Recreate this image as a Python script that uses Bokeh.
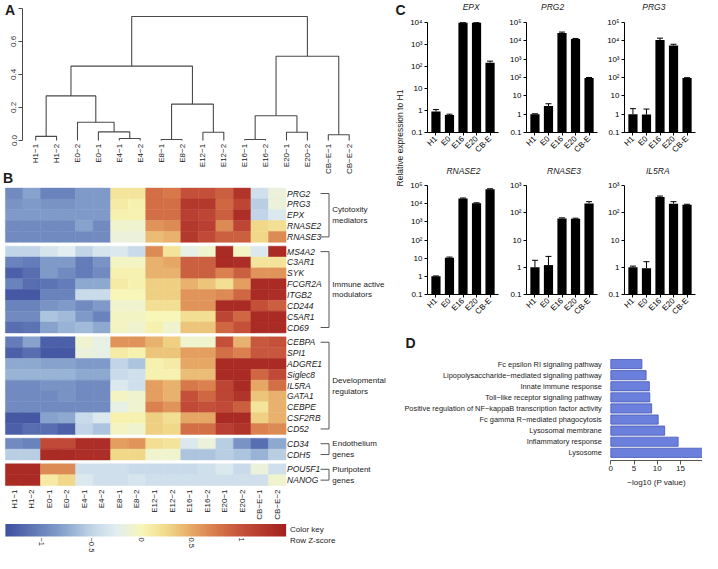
import math
import numpy as np
from bokeh.plotting import figure
from bokeh.models import (Range1d, FixedTicker, ColumnDataSource, LinearColorMapper, TeeHead, Whisker)
from bokeh.layouts import row, column
from bokeh.transform import transform
from bokeh.embed import file_html
from bokeh.resources import INLINE
from bokeh.core.properties import value

FONT = "Liberation Sans"
INK = "#1a1a1a"

# ---------------- Panel A: dendrogram data ----------------
leaf_order = ["H1−1", "H1−2", "E0−2", "E0−1", "E4−1", "E4−2", "E8−1", "E8−2",
              "E12−1", "E12−2", "E16−1", "E16−2", "E20−1", "E20−2", "CB−E−1", "CB−E−2"]
merge_left = ["H1−1", "E4−1", "E0−1", "E0−2", "#0", "E8−1", "E12−1", "#5", "#4",
              "E16−1", "E20−1", "#9", "CB−E−1", "#11", "#8"]
merge_right = ["H1−2", "E4−2", "#1", "#2", "#3", "E8−2", "E12−2", "#6", "#7",
               "E16−2", "E20−2", "#10", "CB−E−2", "#12", "#13"]
merge_height = [0.025, 0.012, 0.052, 0.11, 0.27, 0.006, 0.05, 0.22, 0.45,
                0.006, 0.05, 0.15, 0.035, 0.51, 0.75]
dend_ticks = [0.0, 0.2, 0.4, 0.6, 0.8]
dend_tick_labels = ["0.0", "0.2", "0.4", "0.6", ""]

# ---------------- Panel B: heatmap data (row z-scores) ----------------
hm_columns = ["H1−1", "H1−2", "E0−1", "E0−2", "E4−1", "E4−2", "E8−1", "E8−2",
              "E12−1", "E12−2", "E16−1", "E16−2", "E20−1", "E20−2", "CB−E−1", "CB−E−2"]

genes_cytotoxity = ["PRG2", "PRG3", "EPX", "RNASE2", "RNASE3"]
z_cytotoxity = [
    [-0.95, -0.8, -1.0, -1.0, -0.85, -0.85, 0.15, 0.15, 0.8, 0.75, 1.0, 1.0, 0.9, 1.25, -0.4, -0.15],
    [-0.9, -0.85, -0.9, -0.9, -0.85, -0.85, 0.1, 0.05, 0.8, 0.8, 1.2, 1.2, 0.85, 1.1, -0.55, -0.15],
    [-0.85, -0.85, -0.85, -0.85, -0.85, -0.85, 0.05, 0.05, 0.8, 0.8, 1.15, 1.1, 0.9, 1.3, -0.5, -0.3],
    [-0.95, -0.95, -0.95, -0.95, -0.8, -0.95, -0.1, -0.1, 0.6, 0.65, 1.2, 1.15, 0.65, 1.1, 0.25, 0.2],
    [-0.95, -0.95, -0.95, -0.95, -0.95, -0.95, -0.15, -0.15, 0.4, 0.45, 1.2, 1.05, 0.9, 0.9, 0.25, 0.65],
]
genes_immune = ["MS4A2", "C3AR1", "SYK", "FCGR2A", "ITGB2", "CD244", "C5AR1", "CD69"]
z_immune = [
    [-0.5, -0.5, -0.35, -0.25, -0.5, -0.35, -0.3, -0.45, 0.65, 0.15, -0.2, -0.1, 1.35, -0.05, -0.3, 1.35],
    [-1.0, -1.05, -0.85, -0.85, -1.05, -0.9, -0.05, -0.05, 0.45, 0.5, 0.9, 0.9, 1.35, 1.3, 0.15, 0.15],
    [-1.25, -1.15, -0.85, -0.95, -1.05, -0.95, 0.05, 0.05, 0.45, 0.45, 0.9, 0.9, 0.7, 0.9, 0.6, 0.6],
    [-1.0, -1.15, -1.1, -1.05, -0.75, -0.75, 0.1, 0.05, 0.3, 0.3, 0.45, 0.35, 0.2, 0.55, 1.35, 1.35],
    [-1.3, -1.3, -1.0, -1.0, -0.45, -0.45, 0.0, 0.0, 0.3, 0.3, 0.6, 0.6, 0.65, 0.85, 1.35, 1.3],
    [-1.0, -1.0, -0.9, -0.85, -0.95, -0.85, -0.1, -0.1, 0.2, 0.2, 0.6, 0.6, 1.35, 1.35, 1.0, 0.9],
    [-0.95, -0.95, -0.6, -0.65, -0.85, -1.0, -0.05, -0.05, 0.0, 0.0, 0.2, 0.2, 1.1, 0.85, 1.35, 1.35],
    [-1.15, -1.1, -0.8, -0.7, -0.65, -0.75, -0.05, -0.1, 0.05, -0.1, 0.35, 0.35, 0.85, 1.0, 1.35, 1.35],
]
genes_developmental = ["CEBPA", "SPI1", "ADGRE1", "Siglec8", "IL5RA", "GATA1", "CEBPE", "CSF2RB", "CD52"]
z_developmental = [
    [-1.05, -0.8, -1.25, -1.25, -0.1, -0.2, 0.6, 0.6, 0.45, 0.3, -0.1, -0.1, 1.0, 0.45, 0.95, 1.0],
    [-1.25, -1.15, -1.3, -1.3, -0.15, -0.2, 0.1, 0.05, 0.35, 0.35, 0.55, 0.55, 0.8, 0.7, 0.95, 0.95],
    [-0.75, -0.75, -0.8, -0.8, -0.85, -0.85, -0.5, -0.6, 0.05, 0.1, 0.5, 0.5, 1.35, 1.35, 1.35, 1.35],
    [-0.7, -0.7, -0.7, -0.7, -0.75, -0.75, -0.45, -0.4, 0.05, 0.05, 0.4, 0.4, 1.35, 1.35, 0.85, 1.05],
    [-0.95, -0.95, -0.9, -0.9, -0.95, -0.95, -0.3, -0.4, 0.55, 0.45, 0.75, 0.7, 1.1, 1.35, 0.5, 0.8],
    [-0.95, -0.95, -0.95, -0.9, -0.95, -0.95, -0.05, -0.1, 0.55, 0.45, 1.0, 0.85, 1.1, 1.25, 0.35, 0.45],
    [-0.95, -0.95, -0.95, -0.95, -0.95, -0.95, -0.2, -0.1, 0.7, 0.6, 1.05, 1.0, 1.05, 0.9, 0.15, 0.45],
    [-1.3, -1.3, -0.8, -0.75, -0.45, -0.3, 0.05, 0.05, 0.3, 0.2, 0.5, 0.5, 1.35, 1.35, 0.3, 0.45],
    [-1.25, -1.15, -1.15, -1.25, -0.5, -0.6, -0.05, -0.1, 0.3, 0.25, 0.8, 0.8, 1.15, 1.25, 0.7, 0.65],
]
genes_endothelium = ["CD34", "CDH5"]
z_endothelium = [
    [-0.95, -1.0, 1.05, 1.05, 1.3, 1.3, 0.55, 0.6, 0.2, 0.15, -0.3, -0.15, -0.55, -0.9, -1.15, -0.75],
    [-0.55, -0.55, 1.35, 1.35, 1.3, 1.3, 0.25, 0.25, -0.1, -0.1, -0.6, -0.6, -0.55, -0.6, -0.7, -0.55],
]
genes_pluripotent = ["POU5F1", "NANOG"]
z_pluripotent = [
    [1.35, 1.35, 0.65, 0.65, -0.4, -0.4, -0.4, -0.45, -0.45, -0.45, -0.45, -0.4, -0.3, -0.45, -0.15, -0.4],
    [1.35, 1.35, 0.1, 0.25, -0.3, -0.4, -0.4, -0.35, -0.4, -0.4, -0.4, -0.4, -0.4, -0.4, -0.4, -0.1],
]
group_titles = [["Cytotoxity", "mediators"], ["Immune active", "modulators"],
                ["Developmental", "regulators"], ["Endothelium", "genes"], ["Pluripotent", "genes"]]
key_ticks = [-1, -0.5, 0, 0.5, 1]
key_low, key_high = -1.36, 1.44

# ---------------- Panel C: qPCR data ----------------
qpcr_groups = ["H1", "E0", "E16", "E20", "CB-E"]
epx_mean = [0.9, 0.62, 9800, 9800, 150]
epx_upper = [1.1, 0.68, 9800, 9800, 175]
prg2_mean = [1.0, 2.8, 27000, 12500, 95]
prg2_upper = [1.05, 3.7, 30000, 13500, 100]
prg3_mean = [1.0, 0.95, 11000, 5600, 95]
prg3_upper = [2.0, 1.9, 14000, 6500, 98]
rnase2_mean = [1.0, 10.5, 19000, 10500, 62000]
rnase2_upper = [1.05, 11.5, 20500, 11200, 66000]
rnase3_mean = [1.0, 1.2, 62, 60, 220]
rnase3_upper = [1.8, 2.5, 65, 63, 255]
il5ra_mean = [1.0, 0.92, 380, 215, 195]
il5ra_upper = [1.1, 1.6, 410, 255, 205]
log_tick_labels = {0.1: "0.1", 1: "1", 10: "10", 100: "10²", 1000: "10³",
                   10000: "10⁴", 100000: "10⁵"}

# ---------------- Panel D: GO enrichment ----------------
go_terms = ["Fc epsilon RI signaling pathway",
            "Lipopolysaccharide−mediated signaling pathway",
            "Innate immune response",
            "Toll−like receptor signaling pathway",
            "Positive regulation of NF−kappaB transcription factor activity",
            "Fc gamma R−mediated phagocytosis",
            "Lysosomal membrane",
            "Inflammatory response",
            "Lysosome"]
go_neglog10p = [6.7, 7.6, 8.3, 8.4, 8.8, 10.2, 11.6, 14.5, 20.0]
go_ticks = [0, 5, 10, 15, 20]


def full_fig(w, h, xr, yr, **kw):
    p = figure(width=w, height=h, x_range=Range1d(*xr), y_range=Range1d(*yr),
               output_backend="svg", toolbar_location=None, min_border=0,
               min_border_left=0, min_border_right=0, min_border_top=0, min_border_bottom=0, **kw)
    p.outline_line_color = None
    p.background_fill_color = "white"
    p.border_fill_color = "white"
    p.xgrid.visible = False
    p.ygrid.visible = False
    return p


def gfont(size, style="normal"):
    return dict(text_font=value(FONT), text_font_size=size, text_font_style=style, text_color=INK)


def style_axis(ax, size="8px", color="black"):
    ax.axis_line_color = color
    ax.major_tick_line_color = color
    ax.minor_tick_line_color = None
    ax.major_tick_in = 0
    ax.major_label_text_font = FONT
    ax.major_label_text_font_size = size
    ax.major_label_text_color = INK


# ======== Panel A: dendrogram ========
WL, HA = 393, 186
A_PX = 20.9            # px between leaves
A_X0 = 35.2            # px of first leaf
A_YPX = 165.25         # px per unit height
A_Y0 = 140.0           # px of height 0
ax_lo = -A_X0 / A_PX
ax_hi = (WL - A_X0) / A_PX
ay_hi = A_Y0 / A_YPX
ay_lo = -(HA - A_Y0) / A_YPX
fa = full_fig(WL, HA, (ax_lo, ax_hi), (ay_lo, ay_hi), x_axis_location=None)

pos = {name: (i, 0.0) for i, name in enumerate(leaf_order)}
xs, ys = [], []
for k, (a, b, h) in enumerate(zip(merge_left, merge_right, merge_height)):
    xa, ha = pos[a]
    xb, hb = pos[b]
    xs.append([xa, xa, xb, xb])
    ys.append([ha, h, h, hb])
    pos["#%d" % k] = ((xa + xb) / 2.0, h)
fa.multi_line(xs, ys, line_color="#4a4a4a", line_width=1.1)
fa.text(x=list(range(len(leaf_order))), y=[-0.02] * len(leaf_order), text=leaf_order,
        angle=math.pi / 2, text_align="right", text_baseline="middle", **gfont("8px"))
ya = fa.yaxis[0]
ya.fixed_location = ax_lo + 22 / A_PX
ya.bounds = (0, 0.8)
ya.ticker = FixedTicker(ticks=dend_ticks)
ya.major_label_overrides = dict(zip(dend_ticks, dend_tick_labels))
ya.major_label_orientation = "vertical"
ya.major_label_standoff = 2
ya.major_tick_out = 4
style_axis(ya, color="#4a4a4a")
ya.major_label_text_color = "#333333"
fa.text(x=[ax_lo + 9.5 / A_PX, ax_lo + 7.5 / A_PX],
        y=[ay_hi - 9.7 / A_YPX, ay_hi - 177.0 / A_YPX], text=["A", "B"],
        text_align="center", text_baseline="middle", **gfont("14px", "bold"))

# ======== Panel B: heatmap ========
stops = [(-1.36, "#3f50a0"), (-1.0, "#6a84bd"), (-0.75, "#8eaad0"), (-0.5, "#c3d6e8"),
         (-0.25, "#e2eef0"), (0.0, "#f8f6b8"), (0.25, "#f1d98a"), (0.5, "#e6a866"),
         (0.75, "#d7784a"), (1.0, "#c4503a"), (1.44, "#a3201f")]


def build_palette(stops, n=256):
    vals = np.array([s[0] for s in stops])
    rgb = np.array([[int(s[1][i:i + 2], 16) for i in (1, 3, 5)] for s in stops], dtype=float)
    out = []
    for t in np.linspace(vals[0], vals[-1], n):
        c = [np.interp(t, vals, rgb[:, j]) for j in range(3)]
        out.append("#%02x%02x%02x" % tuple(int(round(v)) for v in c))
    return out


mapper = LinearColorMapper(palette=build_palette(stops), low=key_low, high=key_high)

HB = 334
B_CPX, B_X0 = 17.54, 4.9       # px per column, px of first column edge
B_RPX, B_Y0 = 10.84, 1.6       # px per row, px of top row edge
fb = full_fig(WL, HB, (-B_X0 / B_CPX, (WL - B_X0) / B_CPX),
              (-(HB - B_Y0) / B_RPX, B_Y0 / B_RPX),
              x_axis_location=None, y_axis_location=None)

blocks = [(genes_cytotoxity, z_cytotoxity), (genes_immune, z_immune),
          (genes_developmental, z_developmental), (genes_endothelium, z_endothelium),
          (genes_pluripotent, z_pluripotent)]
GAP = 0.36
cx, cy, cz = [], [], []
gx, gy, gname = [], [], []
seg_x0, seg_y0, seg_x1, seg_y1 = [], [], [], []
grp_x, grp_y, grp_t = [], [], []
ncol = len(hm_columns)
r = 0
BRK_X0, BRK_X1, GRP_X, GENE_X = 17.97, 18.45, 18.64, 16.06
for b, (genes, z) in enumerate(blocks):
    centers = []
    for gi, g in enumerate(genes):
        yc = -(r + b * GAP) - 0.5
        centers.append(yc)
        for c in range(ncol):
            cx.append(c + 0.5)
            cy.append(yc)
            cz.append(z[gi][c])
        gx.append(GENE_X)
        gy.append(yc)
        gname.append(g)
        r += 1
    top, bot = centers[0], centers[-1]
    seg_x0 += [BRK_X1, BRK_X0, BRK_X0]
    seg_y0 += [top, top, bot]
    seg_x1 += [BRK_X1, BRK_X1, BRK_X1]
    seg_y1 += [bot, top, bot]
    mid = (top + bot) / 2.0
    grp_x += [GRP_X, GRP_X]
    grp_y += [mid + 0.5, mid - 0.5]
    grp_t += group_titles[b]

hsrc = ColumnDataSource(dict(x=cx, y=cy, z=cz))
fb.rect(x="x", y="y", width=1, height=1, source=hsrc,
        fill_color=transform("z", mapper), line_color=transform("z", mapper), line_width=0.5)
fb.text(x=gx, y=gy, text=gname, text_align="left", text_baseline="middle", **gfont("8.5px", "italic"))
fb.segment(x0=seg_x0, y0=seg_y0, x1=seg_x1, y1=seg_y1, line_color="#555555", line_width=1)
fb.text(x=grp_x, y=grp_y, text=grp_t, text_align="left", text_baseline="middle", **gfont("8px"))
last_bottom = -(r + (len(blocks) - 1) * GAP)
fb.text(x=[c + 0.5 for c in range(ncol)], y=[last_bottom - 0.36] * ncol, text=hm_columns,
        angle=math.pi / 2, text_align="right", text_baseline="middle", **gfont("8px"))

# ======== Color key ========
HK = 33
K_PX, K_X0 = 100.25, 4.9            # px per z unit, px of key_low
K_YPX, K_Y0 = 12.5, 16.0            # px per unit, px of key bottom
fk = full_fig(WL, HK, (key_low - K_X0 / K_PX, key_low + (WL - K_X0) / K_PX),
              (-(HK - K_Y0) / K_YPX, K_Y0 / K_YPX), y_axis_location=None)
key_grad = np.linspace(key_low, key_high, 400)[None, :]
fk.image(image=[key_grad], x=key_low, y=0, dw=key_high - key_low, dh=1, color_mapper=mapper)
ka = fk.xaxis[0]
ka.fixed_location = 0
ka.ticker = FixedTicker(ticks=key_ticks)
ka.major_label_orientation = "vertical"
ka.axis_line_color = None
ka.major_tick_line_color = None
ka.minor_tick_line_color = None
ka.major_tick_out = 0
ka.major_label_standoff = 1
ka.major_label_text_font = FONT
ka.major_label_text_font_size = "7.5px"
ka.major_label_text_color = INK
kx = key_low + (289.5 - K_X0) / K_PX
fk.text(x=[kx, kx], y=[(K_Y0 - 9.0) / K_YPX, (K_Y0 - 19.5) / K_YPX], text=["Color key", "Row Z-score"],
        text_align="left", text_baseline="middle", **gfont("8px"))

# ======== Panel C ========
C_FW = 71.0
C_UPX = C_FW / 5.25


def c_chart(title, means, uppers, ymax, w, h, lb, tb, fh, title_off, title_y):
    decades = math.log10(ymax) + 1
    dpp = decades / fh
    x0 = 0.375 - lb / C_UPX
    yr = (10 ** (-1 - (h - tb - fh) * dpp), 10 ** (math.log10(ymax) + tb * dpp))
    p = full_fig(w, h, (x0, x0 + w / C_UPX), yr, y_axis_type="log")
    xpos = [i + 1 for i in range(len(qpcr_groups))]
    p.vbar(x=xpos, top=means, bottom=0.1, width=0.68, fill_color="black", line_color=None)
    src = ColumnDataSource(dict(x=xpos, lo=means, hi=uppers))
    p.add_layout(Whisker(base="x", lower="lo", upper="hi", source=src, dimension="height",
                         line_color="black", line_width=1,
                         upper_head=TeeHead(size=6, line_color="black", line_width=1),
                         lower_head=None))
    ticks = [t for t in log_tick_labels if t <= ymax * 1.0001]
    yax = p.yaxis[0]
    yax.fixed_location = 0.375
    yax.bounds = (0.1, ymax)
    yax.ticker = FixedTicker(ticks=ticks)
    yax.major_label_overrides = {t: log_tick_labels[t] for t in ticks}
    xax = p.xaxis[0]
    xax.fixed_location = 0.1
    xax.bounds = (0.375, 5.625)
    xax.ticker = FixedTicker(ticks=xpos)
    xax.major_label_overrides = dict(zip(xpos, qpcr_groups))
    xax.major_label_orientation = math.pi / 4
    for ax in (xax, yax):
        style_axis(ax)
        ax.major_tick_out = 3
        ax.major_label_standoff = 2
        ax.major_label_text_color = "black"
    p.text(x=[0.375 + title_off / C_UPX], y=[10 ** (math.log10(ymax) + (tb - title_y) * dpp)],
           text=[title], text_align="center", text_baseline="middle", **gfont("8.5px", "italic"))
    return p


c1 = c_chart("EPX", epx_mean, epx_upper, 1e4, 98, 164, 20, 22, 110, 43.7, 6.8)
c2 = c_chart("PRG2", prg2_mean, prg2_upper, 1e5, 98, 164, 21, 22, 110, 26.1, 6.8)
c3 = c_chart("PRG3", prg3_mean, prg3_upper, 1e5, 99, 164, 21, 22, 110, 29.3, 6.8)
c4 = c_chart("RNASE2", rnase2_mean, rnase2_upper, 1e5, 98, 165, 20, 21, 109, 35.9, 6.0)
c5 = c_chart("RNASE3", rnase3_mean, rnase3_upper, 1e3, 98, 165, 21, 21, 109, 37.5, 6.0)
c6 = c_chart("IL5RA", il5ra_mean, il5ra_upper, 1e3, 99, 165, 21, 21, 109, 33.3, 6.0)

HS = 329
fs = full_fig(14, HS, (0, 14), (0, HS), x_axis_location=None, y_axis_location=None)
fs.text(x=[6.5], y=[HS - 137.5], text=["Relative expression to H1"], angle=math.pi / 2,
        text_align="center", text_baseline="middle", **gfont("8.5px"))
fs.text(x=[7], y=[HS - 9.7], text=["C"], text_align="center", text_baseline="middle",
        **gfont("14px", "bold"))

# ======== Panel D ========
WD, HD = 309, 224
D_PX, D_X0 = 4.645, 217.3          # px per unit, px of zero
D_YPX, D_Y9 = 11.09, 34.6          # px per row, px of top row centre
n_go = len(go_terms)
dy_hi = n_go + D_Y9 / D_YPX
fd = full_fig(WD, HD, (-D_X0 / D_PX, (WD - D_X0) / D_PX), (dy_hi - HD / D_YPX, dy_hi))
go_y = [n_go - i for i in range(n_go)]
fd.hbar(y=go_y, right=go_neglog10p, left=0, height=0.83, fill_color="#6b80dd",
        line_color="#4658b5", line_width=0.8)
dya = fd.yaxis[0]
dya.fixed_location = 0
dya.ticker = FixedTicker(ticks=go_y)
dya.major_label_overrides = dict(zip(go_y, go_terms))
dya.axis_line_color = None
dya.major_tick_line_color = None
dya.minor_tick_line_color = None
dya.major_label_standoff = 3
dya.major_label_text_font = FONT
dya.major_label_text_font_size = "7.4px"
dya.major_label_text_color = INK
dxa = fd.xaxis[0]
dxa.fixed_location = dy_hi - 130.8 / D_YPX
dxa.bounds = (0, 20)
dxa.ticker = FixedTicker(ticks=go_ticks)
style_axis(dxa, color="#555555")
dxa.major_tick_out = 4
dxa.major_label_standoff = 2
dxa.axis_label = "−log10 (P value)"
dxa.axis_label_text_font = FONT
dxa.axis_label_text_font_size = "8px"
dxa.axis_label_text_font_style = "normal"
dxa.axis_label_text_color = INK
dxa.axis_label_standoff = 3
fd.text(x=[(17 - D_X0) / D_PX], y=[dy_hi - 13 / D_YPX], text=["D"], text_align="center",
        text_baseline="middle", **gfont("14px", "bold"))

left = column(fa, fb, fk)
right = column(row(fs, column(row(c1, c2, c3), row(c4, c5, c6))), fd)
root = row(left, right)

open("out.html", "w").write(file_html(root, INLINE))
